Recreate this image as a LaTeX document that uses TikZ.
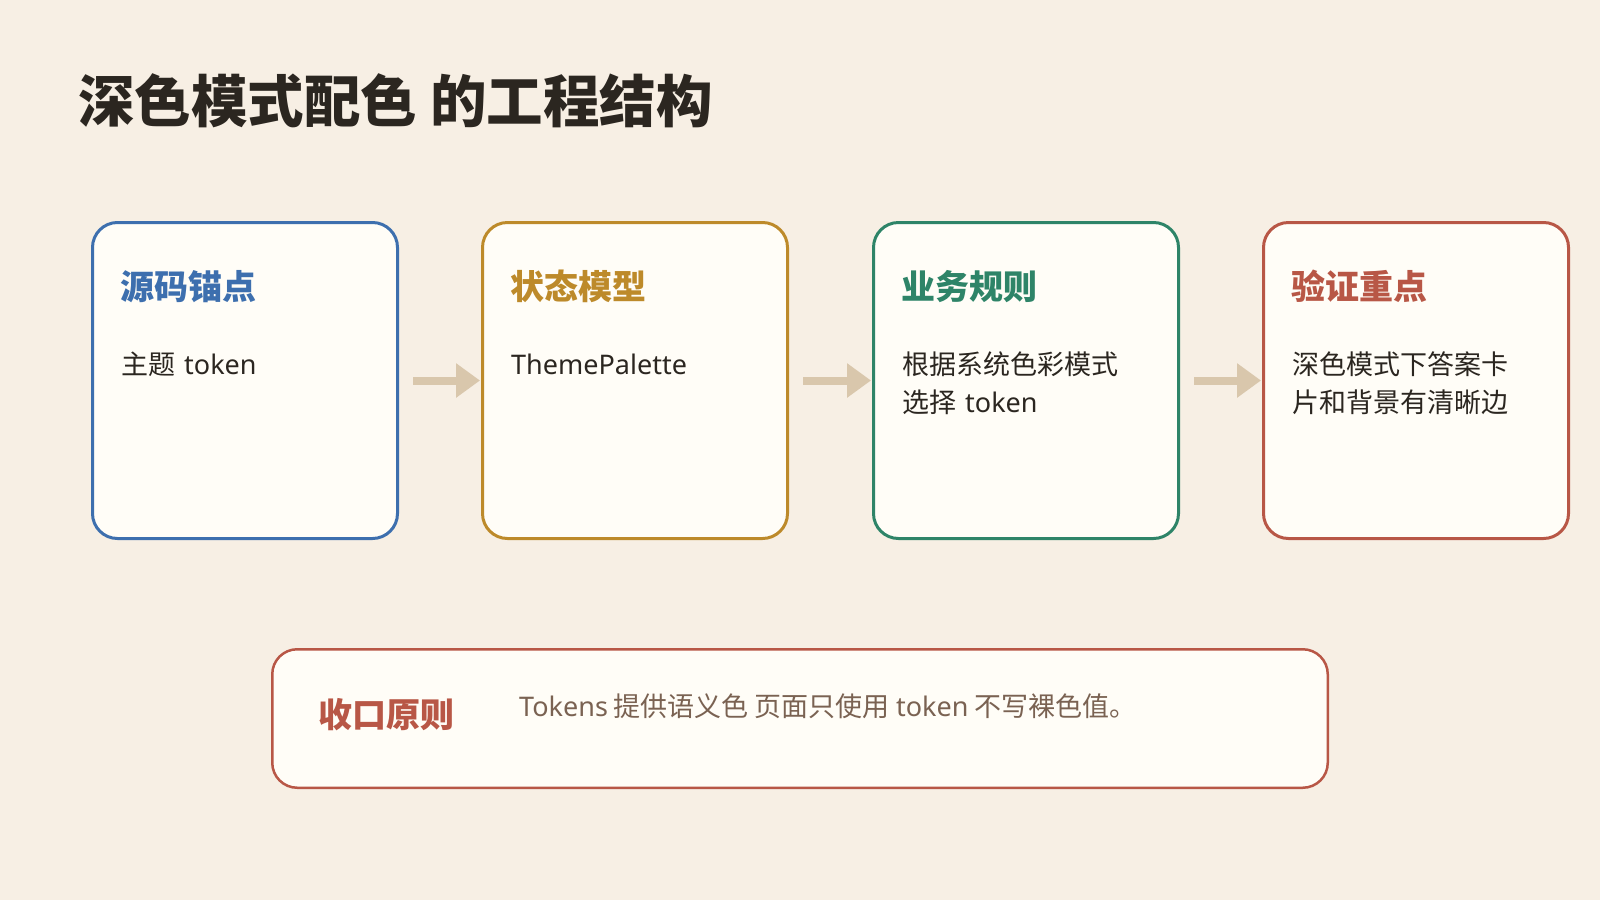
\documentclass[tikz,border=0pt]{standalone}
\usepackage{fontspec}
\setmainfont{Noto Sans CJK SC}
\newfontfamily\latinfont{Noto Sans}
\usetikzlibrary{positioning, arrows.meta}
\definecolor{pagecream}{HTML}{F7EFE4}
\definecolor{cardwhite}{HTML}{FFFDF7}
\definecolor{inkdark}{HTML}{2B2620}
\definecolor{inkbrown}{HTML}{7A6252}
\definecolor{arrowsand}{HTML}{D9C7AC}
\definecolor{srcblue}{HTML}{3D6FAE}
\definecolor{stategold}{HTML}{BD8A2A}
\definecolor{rulegreen}{HTML}{2E8468}
\definecolor{checkred}{HTML}{B85746}
\newcommand{\lat}[1]{{\latinfont #1}}

\begin{document}
\begin{tikzpicture}[x=1pt, y=-1pt,
	card/.style={draw=#1, line width=3pt, fill=cardwhite, rounded corners=25pt, minimum width=305pt, minimum height=316pt, inner sep=0pt},
	cardhead/.style={anchor=base west, inner sep=0pt, text=#1, font=\fontsize{34}{40}\selectfont\bfseries},
	cardbody/.style={anchor=base west, inner sep=0pt, align=left, text width=275pt, text=inkdark, font=\fontsize{27}{38}\selectfont},
	flow/.style={draw=arrowsand, line width=8pt, -{Triangle[length=24pt,width=33pt]}, shorten <=14pt, shorten >=1pt}]
			\fill[pagecream] (0,0) rectangle (1600,900);
			\node[anchor=base west, inner sep=0pt, text=inkdark, font=\fontsize{56.5}{68}\selectfont\bfseries] (title) at (78,122) {深色模式配色 的工程结构};
			
			%% four cards
			\node[card=srcblue] (anchor) at (245,380.5) {};
			\node[card=stategold] (state) at (635,380.5) {};
			\node[card=rulegreen] (rules) at (1026,380.5) {};
			\node[card=checkred] (check) at (1416,380.5) {};
			
			\node[cardhead=srcblue] (anchorT) at (120,299) {源码锚点};
			\node[cardbody] (anchorB) at (121,374) {主题 \lat{token}};
			\node[cardhead=stategold] (stateT) at (510,299) {状态模型};
			\node[cardbody] (stateB) at (511,374) {\lat{ThemePalette}};
			\node[cardhead=rulegreen] (rulesT) at (901,299) {业务规则};
			\node[cardbody] (rulesB) at (902,374) {根据系统色彩模式\\选择 \lat{token}};
			\node[cardhead=checkred] (checkT) at (1291,299) {验证重点};
			\node[cardbody] (checkB) at (1292,374) {深色模式下答案卡\\片和背景有清晰边};
			
			\draw[flow] (anchor) -- (state);
			\draw[flow] (state) -- (rules);
			\draw[flow] (rules) -- (check);
			
			%% closing rule
			\node[draw=checkred, line width=2.5pt, fill=cardwhite, rounded corners=25pt, minimum width=1055.5pt, minimum height=138.5pt] (closing) at (800,718.5) {};
			\node[cardhead=checkred] (closingT) at (318,727) {收口原则};
			\node[anchor=base west, inner sep=0pt, text=inkbrown, font=\fontsize{27}{38}\selectfont] (closingB) at (519,716) {\lat{Tokens} 提供语义色 页面只使用 \lat{token} 不写裸色值。};
\end{tikzpicture}
\end{document}
